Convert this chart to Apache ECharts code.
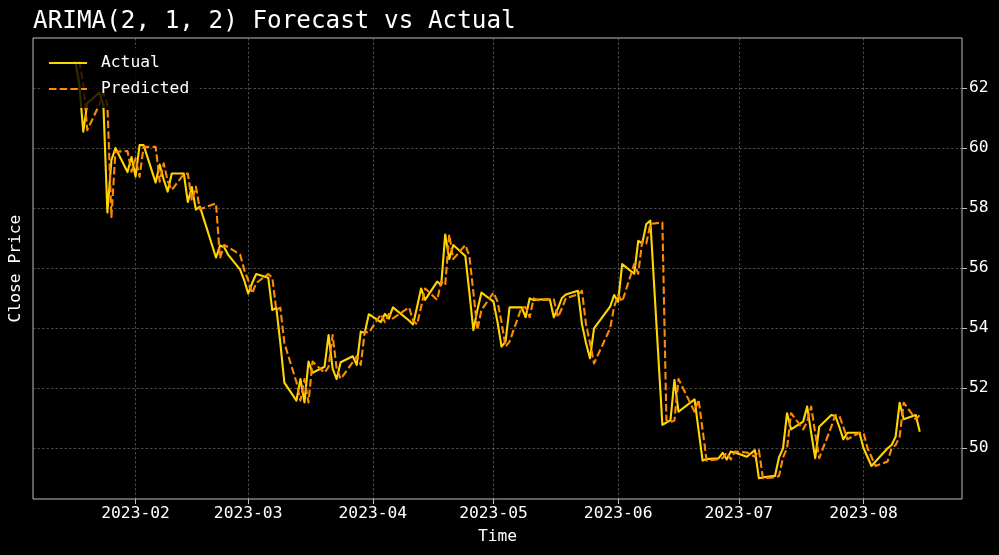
<!DOCTYPE html>
<html>
<head>
<meta charset="utf-8">
<script src="https://cdn.jsdelivr.net/npm/echarts@6/dist/echarts.min.js"></script>
<style>
html,body{margin:0;padding:0;background:#000;}
#c{width:999px;height:555px;}
</style>
</head>
<body>
<div id="c"></div>
<script>
const dates = [
'2023-01-17','2023-01-18','2023-01-19','2023-01-20','2023-01-23','2023-01-24','2023-01-25','2023-01-26','2023-01-27','2023-01-30','2023-01-31',
'2023-02-01','2023-02-02','2023-02-03','2023-02-06','2023-02-07','2023-02-08','2023-02-09','2023-02-10','2023-02-13','2023-02-14','2023-02-15','2023-02-16','2023-02-17','2023-02-21','2023-02-22','2023-02-23','2023-02-24','2023-02-27','2023-02-28',
'2023-03-01','2023-03-02','2023-03-03','2023-03-06','2023-03-07','2023-03-08','2023-03-09','2023-03-10','2023-03-13','2023-03-14','2023-03-15','2023-03-16','2023-03-17','2023-03-20','2023-03-21','2023-03-22','2023-03-23','2023-03-24','2023-03-27','2023-03-28','2023-03-29','2023-03-30','2023-03-31',
'2023-04-03','2023-04-04','2023-04-05','2023-04-06','2023-04-10','2023-04-11','2023-04-12','2023-04-13','2023-04-14','2023-04-17','2023-04-18','2023-04-19','2023-04-20','2023-04-21','2023-04-24','2023-04-25','2023-04-26','2023-04-27','2023-04-28',
'2023-05-01','2023-05-02','2023-05-03','2023-05-04','2023-05-05','2023-05-08','2023-05-09','2023-05-10','2023-05-11','2023-05-12','2023-05-15','2023-05-16','2023-05-17','2023-05-18','2023-05-19','2023-05-22','2023-05-23','2023-05-24','2023-05-25','2023-05-26','2023-05-30','2023-05-31',
'2023-06-01','2023-06-02','2023-06-05','2023-06-06','2023-06-07','2023-06-08','2023-06-09','2023-06-12','2023-06-13','2023-06-14','2023-06-15','2023-06-16','2023-06-20','2023-06-21','2023-06-22','2023-06-23','2023-06-26','2023-06-27','2023-06-28','2023-06-29','2023-06-30',
'2023-07-03','2023-07-05','2023-07-06','2023-07-07','2023-07-10','2023-07-11','2023-07-12','2023-07-13','2023-07-14','2023-07-17','2023-07-18','2023-07-19','2023-07-20','2023-07-21','2023-07-24','2023-07-25','2023-07-26','2023-07-27','2023-07-28','2023-07-31',
'2023-08-01','2023-08-02','2023-08-03','2023-08-04','2023-08-07','2023-08-08','2023-08-09','2023-08-10','2023-08-11','2023-08-14','2023-08-15'
];

const actual = [
62.90,62.15,60.55,61.50,61.85,61.45,57.85,59.60,60.00,59.20,59.70,
59.05,60.10,60.10,58.85,59.45,58.95,58.55,59.15,59.15,58.20,58.70,57.95,58.05,56.35,56.75,56.70,56.45,55.95,55.60,
55.15,55.50,55.80,55.68,54.60,54.68,53.50,52.18,51.58,52.30,51.52,52.88,52.51,52.71,53.77,52.65,52.30,52.86,53.06,52.77,53.88,53.84,54.46,
54.20,54.47,54.32,54.69,54.25,54.12,54.70,55.32,54.94,55.55,55.43,57.12,56.30,56.77,56.40,55.20,53.93,54.60,55.18,
54.88,54.20,53.38,53.55,54.69,54.69,54.36,54.99,54.93,54.95,54.96,54.36,54.65,55.00,55.12,55.24,54.13,53.50,52.99,53.99,54.71,55.10,
54.88,56.13,55.81,56.91,56.82,57.47,57.58,50.77,50.85,50.92,52.27,51.21,51.62,50.60,49.58,49.63,49.66,49.84,49.62,49.88,49.85,
49.71,49.93,48.99,49.02,49.07,49.69,49.99,51.16,50.62,50.88,51.38,50.50,49.66,50.71,51.10,51.07,50.70,50.29,50.51,50.51,
50.00,49.70,49.40,49.55,49.99,50.10,50.38,51.51,50.96,51.10,50.54
];

const predicted = [
null,62.90,62.15,60.60,61.45,61.85,61.45,57.70,59.88,59.90,59.21,
59.66,59.04,60.04,60.04,58.88,59.49,58.90,58.60,59.13,59.15,58.25,58.71,57.96,58.16,56.32,56.77,56.70,56.45,55.95,
55.60,55.15,55.50,55.80,55.68,54.60,54.68,53.50,52.20,51.58,52.30,51.52,52.88,52.51,52.71,53.77,52.65,52.30,52.86,53.06,52.77,53.88,53.84,
54.46,54.20,54.47,54.32,54.69,54.25,54.12,54.70,55.32,54.94,55.55,55.43,57.12,56.30,56.77,56.40,55.20,53.93,54.60,
55.18,54.88,54.20,53.38,53.55,54.69,54.69,54.36,54.99,54.93,54.95,54.96,54.36,54.65,55.00,55.12,55.24,54.13,53.50,52.82,53.99,54.71,
55.10,54.88,56.13,55.81,56.91,56.82,57.47,57.52,50.93,50.85,50.92,52.30,51.21,51.62,50.60,49.58,49.63,49.66,49.84,49.62,49.88,
49.85,49.71,49.93,48.99,49.02,49.07,49.69,49.99,51.16,50.62,50.88,51.38,50.50,49.66,50.71,51.10,51.07,50.70,50.29,50.51,
50.51,50.00,49.70,49.40,49.55,49.99,50.10,50.38,51.51,50.96,51.10
];

const xTickLabels = ['2023-02','2023-03','2023-04','2023-05','2023-06','2023-07','2023-08'];
const yTickLabels = [50, 52, 54, 56, 58, 60, 62];

const FONT = 'DejaVu Sans Mono';
const toTime = s => { const p = s.split('-'); return new Date(+p[0], +p[1] - 1, p[2] ? +p[2] : 1).getTime(); };
const xTicks = xTickLabels.map(toTime);
const xMin = new Date(2023, 0, 6, 12).getTime();
const xMax = new Date(2023, 7, 25, 12).getTime();
const yMin = 48.3, yMax = 63.67;
const spine = '#bdbdbd';
const gridLine = { show: true, lineStyle: { color: '#7a7a7a', width: 0.6, type: [2.5, 2] } };

const chart = echarts.init(document.getElementById('c'), null, { renderer: 'canvas' });
chart.setOption({
  backgroundColor: '#000',
  animation: false,
  textStyle: { fontFamily: FONT },
  title: {
    text: 'ARIMA(2, 1, 2) Forecast vs Actual',
    left: 28, top: 5,
    textStyle: { color: '#fff', fontSize: 24.3, fontWeight: 'normal', fontFamily: FONT }
  },
  legend: {
    left: 40, top: 48, orient: 'vertical',
    padding: [5, 10, 9, 8],
    itemWidth: 38, itemHeight: 14, itemGap: 6,
    backgroundColor: 'rgba(0,0,0,0.8)', borderWidth: 0,
    itemStyle: { opacity: 0 },
    textStyle: { color: '#fff', fontSize: 16.3, fontFamily: FONT, padding: [0, 0, 0, 9], lineHeight: 20 },
    data: ['Actual', 'Predicted']
  },
  grid: { left: 33, right: 37, top: 38, bottom: 56, show: true, borderColor: spine, borderWidth: 1, backgroundColor: 'transparent' },
  xAxis: {
    type: 'value', min: xMin, max: xMax,
    name: 'Time', nameLocation: 'middle', nameGap: 30,
    nameTextStyle: { color: '#fff', fontSize: 16.3, fontFamily: FONT },
    axisLine: { show: false },
    axisTick: { show: true, length: 5, lineStyle: { color: spine }, customValues: xTicks },
    axisLabel: {
      customValues: xTicks, color: '#fff', fontSize: 16.3, fontFamily: FONT, margin: 7,
      formatter: v => { const d = new Date(v); return d.getFullYear() + '-' + String(d.getMonth() + 1).padStart(2, '0'); }
    },
    splitLine: gridLine
  },
  yAxis: [{
    type: 'value', position: 'right', min: yMin, max: yMax,
    axisLine: { show: false },
    axisTick: { show: true, length: 5, lineStyle: { color: spine }, customValues: yTickLabels },
    axisLabel: { customValues: yTickLabels, color: '#fff', fontSize: 16.3, fontFamily: FONT, margin: 7 },
    splitLine: gridLine
  }, {
    type: 'value', position: 'left', min: yMin, max: yMax,
    name: 'Close Price', nameLocation: 'middle', nameGap: 9, nameRotate: 90,
    nameTextStyle: { color: '#fff', fontSize: 16.3, fontFamily: FONT },
    axisLine: { show: false }, axisTick: { show: false }, axisLabel: { show: false }, splitLine: { show: false }
  }],
  series: [{
    name: 'Actual', type: 'line', yAxisIndex: 0,
    data: dates.map((d, i) => [toTime(d), actual[i]]),
    symbol: 'none', showSymbol: false,
    lineStyle: { color: '#FFD700', width: 2.1, join: 'round' },
    itemStyle: { color: '#FFD700' }
  }, {
    name: 'Predicted', type: 'line', yAxisIndex: 0,
    data: dates.map((d, i) => [toTime(d), predicted[i]]),
    symbol: 'none', showSymbol: false,
    lineStyle: { color: '#FF8C00', width: 2.1, type: [7.5, 3.2], join: 'round' },
    itemStyle: { color: '#FF8C00' }
  }]
});
</script>
</body>
</html>
